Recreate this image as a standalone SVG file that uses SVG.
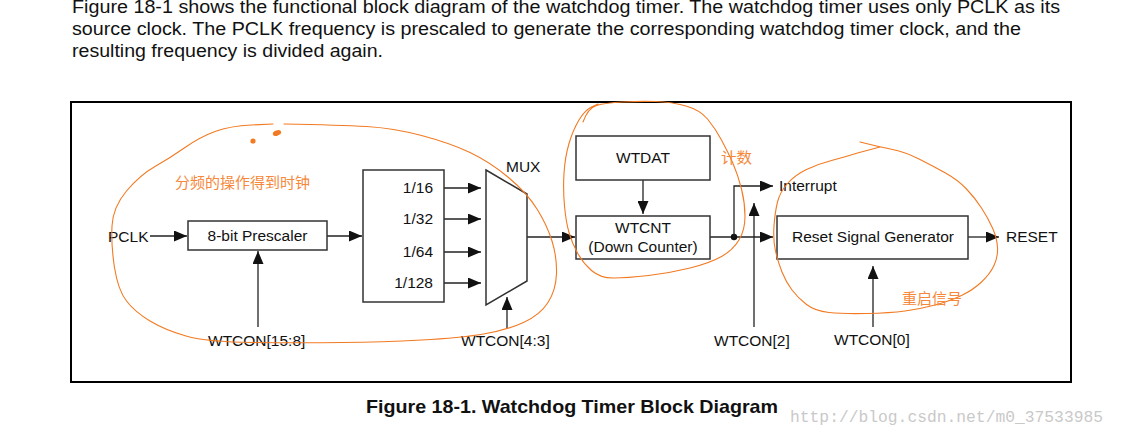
<svg xmlns="http://www.w3.org/2000/svg" width="1121" height="438" viewBox="0 0 1121 438">
  <defs>
    <marker id="ah" markerUnits="userSpaceOnUse" markerWidth="13" markerHeight="11" refX="13" refY="5.5" orient="auto">
      <path d="M0,0 L13,5.5 L0,11 z" fill="#111"/>
    </marker>
    <style>
      .body { font-family: "Liberation Sans", Arial, sans-serif; font-size: 17.5px; fill: #111; }
      .cap { font-family: "Liberation Sans", Arial, sans-serif; font-size: 18.5px; font-weight: bold; fill: #111; }
      .lbl { font-family: "Liberation Sans", Arial, sans-serif; font-size: 15.5px; fill: #111; }
      .mid { text-anchor: middle; }
      .end { text-anchor: end; }
      .box { fill: #fff; stroke: #333; stroke-width: 1.5; }
      .wire { fill: none; stroke: #222; stroke-width: 1.3; }
      .ink { fill: none; stroke: #f27a22; stroke-width: 1.1; stroke-linecap: round; stroke-linejoin: round; }
      .cn { font-family: "Noto Sans CJK SC", "Noto Sans", sans-serif; font-size: 14.5px; fill: #f5883a; }
      .wm { font-family: "Liberation Mono", "DejaVu Sans Mono", monospace; font-size: 16px; fill: #c9c9c9; }
    </style>
  </defs>
  <rect width="1121" height="438" fill="#fff"/>

  <g id="intro">
    <text class="body" x="72" y="13" textLength="988" lengthAdjust="spacingAndGlyphs">Figure 18-1 shows the functional block diagram of the watchdog timer. The watchdog timer uses only PCLK as its</text>
    <text class="body" x="72" y="35" textLength="949" lengthAdjust="spacingAndGlyphs">source clock. The PCLK frequency is prescaled to generate the corresponding watchdog timer clock, and the</text>
    <text class="body" x="72" y="57" textLength="311" lengthAdjust="spacingAndGlyphs">resulting frequency is divided again.</text>
  </g>

  <rect id="frame" x="71" y="102" width="1000" height="280" fill="none" stroke="#000" stroke-width="2"/>

  <g id="connectors">
    <line class="wire" x1="150" y1="236" x2="187" y2="236" marker-end="url(#ah)"/>
    <line class="wire" x1="327" y1="236" x2="362" y2="236" marker-end="url(#ah)"/>
    <line class="wire" x1="258" y1="327" x2="258" y2="251" marker-end="url(#ah)"/>
    <line class="wire" x1="444" y1="188" x2="481" y2="188" marker-end="url(#ah)"/>
    <line class="wire" x1="444" y1="219" x2="481" y2="219" marker-end="url(#ah)"/>
    <line class="wire" x1="444" y1="252" x2="481" y2="252" marker-end="url(#ah)"/>
    <line class="wire" x1="444" y1="283" x2="481" y2="283" marker-end="url(#ah)"/>
    <line class="wire" x1="527" y1="237" x2="575" y2="237" marker-end="url(#ah)"/>
    <line class="wire" x1="507" y1="328" x2="507" y2="297" marker-end="url(#ah)"/>
    <line class="wire" x1="643" y1="180" x2="643" y2="214" marker-end="url(#ah)"/>
    <line class="wire" x1="710" y1="237" x2="773" y2="237" marker-end="url(#ah)"/>
    <circle cx="734" cy="237" r="3.2" fill="#111"/>
    <path class="wire" d="M734,237 V186 H773" marker-end="url(#ah)"/>
    <line class="wire" x1="754" y1="327" x2="754" y2="203" marker-end="url(#ah)"/>
    <line class="wire" x1="968" y1="237" x2="999" y2="237" marker-end="url(#ah)"/>
    <line class="wire" x1="873" y1="327" x2="873" y2="266" marker-end="url(#ah)"/>
  </g>

  <g id="pclk"><text class="lbl" x="108" y="242">PCLK</text></g>
  <g id="prescaler">
    <rect class="box" x="188" y="221" width="139" height="29"/>
    <text class="lbl mid" x="257.5" y="241">8-bit Prescaler</text>
  </g>
  <g id="wtcon158"><text class="lbl" x="208" y="346">WTCON[15:8]</text></g>
  <g id="divider">
    <rect class="box" x="363" y="170" width="81" height="132"/>
    <text class="lbl end" x="433" y="193">1/16</text>
    <text class="lbl end" x="433" y="224">1/32</text>
    <text class="lbl end" x="433" y="257">1/64</text>
    <text class="lbl end" x="433" y="288">1/128</text>
  </g>
  <g id="mux">
    <polygon class="box" points="486,170 527,194 527,281 486,305"/>
    <text class="lbl" x="506" y="172">MUX</text>
  </g>
  <g id="wtcon43"><text class="lbl" x="461" y="346">WTCON[4:3]</text></g>
  <g id="wtdat">
    <rect class="box" x="576" y="136" width="134" height="44"/>
    <text class="lbl mid" x="643" y="163">WTDAT</text>
  </g>
  <g id="wtcnt">
    <rect class="box" x="576" y="216" width="134" height="43"/>
    <text class="lbl mid" x="643" y="233">WTCNT</text>
    <text class="lbl mid" x="643" y="252">(Down Counter)</text>
  </g>
  <g id="interrupt"><text class="lbl" x="779" y="191">Interrupt</text></g>
  <g id="wtcon2"><text class="lbl" x="714" y="346">WTCON[2]</text></g>
  <g id="resetgen">
    <rect class="box" x="777" y="216" width="191" height="43"/>
    <text class="lbl mid" x="873" y="242">Reset Signal Generator</text>
  </g>
  <g id="reset"><text class="lbl" x="1006" y="242">RESET</text></g>
  <g id="wtcon0"><text class="lbl" x="834" y="345">WTCON[0]</text></g>

  <g id="annotations">
    <path class="ink" d="M284,124 Q340,125 366.5,126.5 Q393,128 421.5,135.5 Q450,143 470,152.5 Q490,162 508.5,177.5 Q527,193 537,209 Q547,225 552,241 Q557,257 556.5,273.5 Q556,290 548,302.5 Q540,315 523.5,322.5 Q507,330 483.5,334 Q460,338 421.5,340 Q383,342 341.5,342.5 Q300,343 253.5,342.5 Q207,342 186,336 Q165,330 150,321 Q135,312 126.5,301 Q118,290 114.5,267.5 Q111,245 112,226 Q113,207 126.5,191 Q140,175 155,166.5 Q170,158 185,147.5 Q200,137 215,131.5 Q230,126 251.5,125 L273,124"/>
    <circle cx="253" cy="141" r="2.6" fill="#f27a22"/>
    <ellipse cx="277" cy="133" rx="4.3" ry="2.6" transform="rotate(-20 277 133)" fill="#f27a22"/>
    <path class="ink" d="M583,122 Q588,108 596.5,105.5 Q605,103 622.5,102 Q640,101 656,101.5 Q672,102 686,106 Q700,110 707.5,119 Q715,128 721.5,140 Q728,152 733,163.5 Q738,175 741.5,189 Q745,203 745,216.5 Q745,230 739,240 Q733,250 721.5,256.5 Q710,263 690,268 Q670,273 648.5,275.5 Q627,278 613.5,278 Q600,278 591.5,270.5 Q583,263 577.5,253 Q572,243 569,232.5 Q566,222 564.5,206 Q563,190 564,173.5 Q565,157 569,143.5 Q573,130 579,120 Q585,110 591.5,107 L598,104"/>
    <path class="ink" d="M860,142 Q880,147 892.5,149.5 Q905,152 919,159 Q933,166 945.5,173 Q958,180 966.5,189 Q975,198 981.5,208 Q988,218 992.5,228 Q997,238 997.5,247.5 Q998,257 994,265.5 Q990,274 981.5,282 Q973,290 961.5,295.5 Q950,301 935,305 Q920,309 905,311 Q890,313 866.5,313.5 Q843,314 829,312.5 Q815,311 806.5,304.5 Q798,298 792,290 Q786,282 782,272 Q778,262 775.5,251 Q773,240 774,226 Q775,212 777.5,202 Q780,192 787.5,183.5 Q795,175 806.5,169.5 Q818,164 831.5,160.5 Q845,157 857.5,153 L880,147"/>
    <text class="cn" x="175" y="188" textLength="135" lengthAdjust="spacingAndGlyphs">分频的操作得到时钟</text>
    <text class="cn" x="721" y="163" textLength="31" lengthAdjust="spacingAndGlyphs">计数</text>
    <text class="cn" x="902" y="304" textLength="60" lengthAdjust="spacingAndGlyphs">重启信号</text>
  </g>

  <g id="caption">
    <text class="cap" x="366" y="413" textLength="412" lengthAdjust="spacingAndGlyphs">Figure 18-1. Watchdog Timer Block Diagram</text>
  </g>
  <text class="wm" x="790" y="422" textLength="313" lengthAdjust="spacingAndGlyphs">http://blog.csdn.net/m0_37533985</text>
</svg>
